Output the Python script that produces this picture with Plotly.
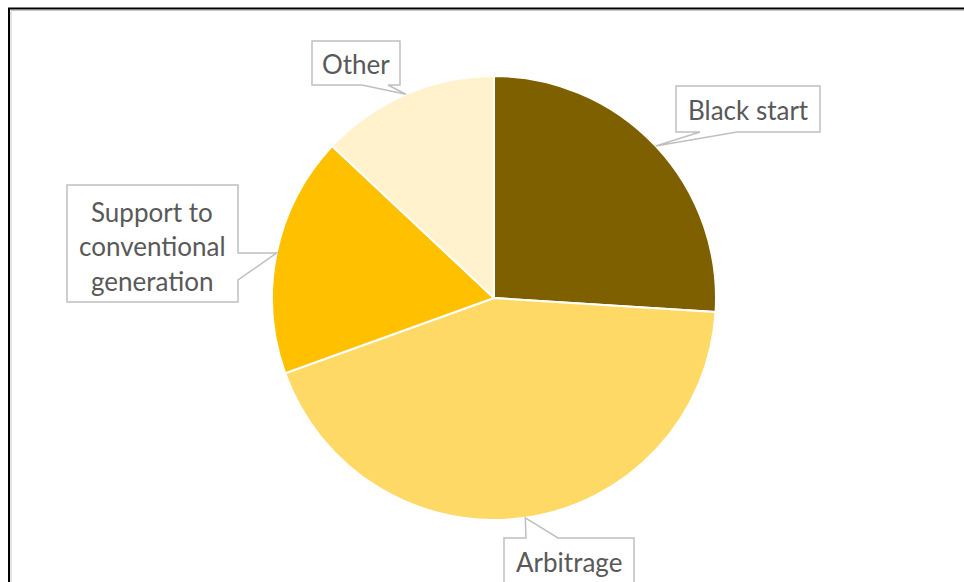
import math
import plotly.graph_objects as go

# ---- data ----
categories = ["Black start", "Arbitrage", "Support to conventional generation", "Other"]
values = [26, 43.5, 17.5, 13]
colors = ["#7F6000", "#FFD966", "#FFC000", "#FFF2CC"]

W, H = 964, 582
CX, CY, R = 494, 298, 222  # pie centre / radius in pixels


def px(x):
    return x / W


def py(y):
    return 1 - y / H


fig = go.Figure(go.Pie(
    labels=categories, values=values, sort=False, direction="clockwise", rotation=0,
    marker=dict(colors=colors, line=dict(color="white", width=2)),
    textinfo="none", hoverinfo="label+percent",
    domain=dict(x=[px(CX - R), px(CX + R)], y=[py(CY + R), py(CY - R)]),
))

# slice-midpoint tips on the circle
total = sum(values)
tips = []
cum = 0
for v in values:
    th = 2 * math.pi * (cum + v / 2) / total
    tips.append((CX + R * math.sin(th), CY - R * math.cos(th)))
    cum += v

# callout boxes: (x0, y0, x1, y1, side, base_a, base_b)
boxes = [
    (676, 86, 820, 132, "bottom", 737, 700),
    (504, 538, 634, 600, "top", 526, 558),
    (67, 185, 238, 302, "right", 280, 253),
    (312, 41, 400, 85, "bottom", 388, 362),
]


def callout_path(box, tip):
    x0, y0, x1, y1, side, a, b = box
    tx, ty = tip
    pts = []
    if side == "bottom":
        pts = [(x0, y0), (x1, y0), (x1, y1), (a, y1), (tx, ty), (b, y1), (x0, y1)]
    elif side == "top":
        pts = [(x0, y0), (a, y0), (tx, ty), (b, y0), (x1, y0), (x1, y1), (x0, y1)]
    elif side == "right":
        pts = [(x0, y0), (x1, y0), (x1, b), (tx, ty), (x1, a), (x1, y1), (x0, y1)]
    d = "M " + " L ".join(f"{px(x):.5f},{py(y):.5f}" for x, y in pts) + " Z"
    return d


shapes = []
for box, tip in zip(boxes, tips):
    shapes.append(dict(type="path", xref="paper", yref="paper", path=callout_path(box, tip),
                       fillcolor="white", line=dict(color="#BFBFBF", width=1.5), layer="above"))

# chart frame (top and left edges visible)
shapes += [
    dict(type="line", xref="paper", yref="paper", x0=px(11), x1=px(964), y0=py(10.5), y1=py(10.5),
         line=dict(color="#C8C8C8", width=1)),
    dict(type="line", xref="paper", yref="paper", x0=px(11), x1=px(11), y0=py(10.5), y1=py(582),
         line=dict(color="#C8C8C8", width=1)),
    dict(type="line", xref="paper", yref="paper", x0=px(8), x1=px(964), y0=py(8.5), y1=py(8.5),
         line=dict(color="black", width=2)),
    dict(type="line", xref="paper", yref="paper", x0=px(9), x1=px(9), y0=py(8), y1=py(582),
         line=dict(color="black", width=2)),
]

font = dict(family="Lato, 'Open Sans', sans-serif", size=26, color="#595959")
label_lines = [
    ("Black start", 748, 110),
    ("Arbitrage", 569, 562),
    ("Support to", 152, 212),
    ("conventional", 152, 246),
    ("generation", 152, 281),
    ("Other", 356, 64),
]
annotations = [dict(text=t, x=px(x), y=py(y), xref="paper", yref="paper", showarrow=False,
                    xanchor="center", yanchor="middle", font=font) for t, x, y in label_lines]

fig.update_layout(width=W, height=H, margin=dict(l=0, r=0, t=0, b=0),
                  paper_bgcolor="white", plot_bgcolor="white", showlegend=False,
                  shapes=shapes, annotations=annotations)

fig.write_html("out.html")
